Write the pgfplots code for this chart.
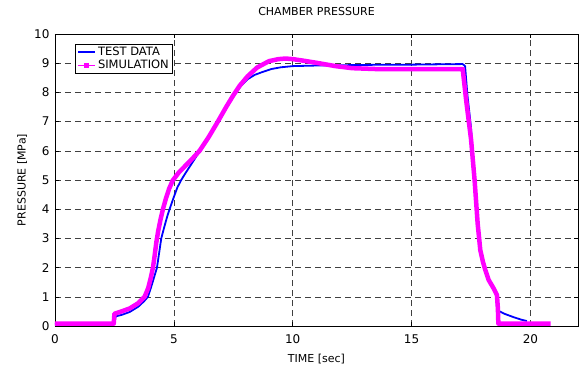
\documentclass[border=0pt]{standalone}
\usepackage{pgfplots}
\pgfplotsset{compat=1.18}
\usepackage{fontspec}
\setmainfont{DejaVu Sans}
\definecolor{simcol}{RGB}{255,0,255}
\definecolor{testcol}{RGB}{0,0,255}
\begin{document}
\begin{tikzpicture}[x=1pt,y=1pt]
\begin{axis}[
  at={(0,0)}, anchor=south west,
  scale only axis, width=523pt, height=292pt,
  xmin=0, xmax=22, ymin=0, ymax=10,
  xtick={0,5,10,15,20}, ytick={0,1,...,10},
  grid=major,
  major grid style={black!75, line width=0.5pt, dash pattern=on 6pt off 4pt},
  tick style={black, line width=0.5pt},
  major tick length=4pt,
  tick align=inside,
  axis line style={black, line width=0.6pt},
  /pgf/number format/assume math mode=true,
  ticklabel style={font=\fontsize{12}{14}\selectfont},
  xticklabel style={anchor=center, yshift=-13pt},
  yticklabel style={xshift=-2pt},
  title={CHAMBER PRESSURE},
  title style={at={(axis description cs:0.5,1.058)}, anchor=center, font=\fontsize{11}{13}\selectfont},
  xlabel={TIME [sec]},
  xlabel style={at={(axis description cs:0.5,-0.113)}, anchor=center, font=\fontsize{11}{13}\selectfont},
  ylabel={PRESSURE [MPa]},
  ylabel style={at={(axis description cs:-0.063,0.5)}, anchor=center, rotate=0, font=\fontsize{11}{13}\selectfont},
  legend style={at={(axis description cs:0.038,0.966)}, anchor=north west,
    draw=black, line width=0.6pt, fill=white, font=\fontsize{11.5}{13}\selectfont,
    inner xsep=2pt, inner ysep=1pt, row sep=-1pt},
  legend cell align=left,
  clip=true,
]
\addplot[testcol, line width=1.8pt, line join=round] coordinates {
(0,0.08) (2.5,0.08) (2.55,0.33) (2.8,0.38) (3.14,0.48) (3.5,0.66) (3.75,0.85)
(3.91,1.0) (4.05,1.35) (4.18,1.7) (4.29,2.0) (4.38,2.5) (4.47,3.0) (4.6,3.4)
(4.72,3.75) (4.82,4.0) (5.0,4.42) (5.15,4.75) (5.31,5.0) (5.5,5.25) (5.7,5.5)
(5.9,5.75) (6.08,6.0) (6.45,6.5) (6.85,7.0) (7.2,7.45) (7.5,7.85) (7.8,8.2)
(8.1,8.45) (8.4,8.6) (8.73,8.7) (9.1,8.8) (9.5,8.86) (10,8.9) (11,8.92)
(12,8.93) (13,8.94) (14,8.95) (15,8.95) (16,8.96) (17.15,8.97) (17.25,8.9)
(17.35,7.9) (17.5,6.8) (17.6,5.5) (17.7,4.2) (17.8,3.3) (17.92,2.6) (18.1,1.95)
(18.25,1.6) (18.45,1.3) (18.55,1.05) (18.6,0.6) (18.7,0.5) (18.9,0.42)
(19.1,0.36) (19.3,0.3) (19.6,0.22) (19.85,0.17)
};
\addlegendentry{TEST DATA}
\addplot[simcol, line width=4.5pt, line join=round,
  legend image code/.code={
    \draw[simcol, line width=1pt] (0pt,0pt) -- (17pt,0pt);
    \fill[simcol, line width=0pt] (6.8pt,-1.8pt) rectangle (10.2pt,1.8pt);
  }] coordinates {
(0,0.08) (2.47,0.08) (2.5,0.42) (2.8,0.5) (3.14,0.6) (3.5,0.78) (3.77,1.0)
(3.92,1.3) (4.03,1.65) (4.12,2.0) (4.19,2.4) (4.26,2.85) (4.34,3.25) (4.44,3.65)
(4.54,4.0) (4.66,4.35) (4.8,4.7) (4.95,4.98) (5.2,5.25) (5.5,5.5) (5.8,5.75) (6.08,6.0)
(6.45,6.45) (6.85,7.0) (7.2,7.5) (7.5,7.9) (7.76,8.22) (8.1,8.55) (8.5,8.85)
(9.0,9.07) (9.4,9.14) (9.7,9.16) (10,9.14) (10.5,9.08) (11.1,9.0) (11.8,8.9)
(12.5,8.83) (13.5,8.8) (15,8.8) (17.15,8.8) (17.3,7.7) (17.5,6.4)
(17.65,5.0) (17.78,3.5) (17.89,2.6) (18.0,2.2) (18.1,1.92)
(18.24,1.58) (18.45,1.29) (18.59,1.06) (18.63,0.6) (18.65,0.08) (20.85,0.08)
};
\addlegendentry{SIMULATION}
\end{axis}
\pgfresetboundingbox
\path[use as bounding box] (-55,-42) rectangle (524,326);
\end{tikzpicture}
\end{document}
